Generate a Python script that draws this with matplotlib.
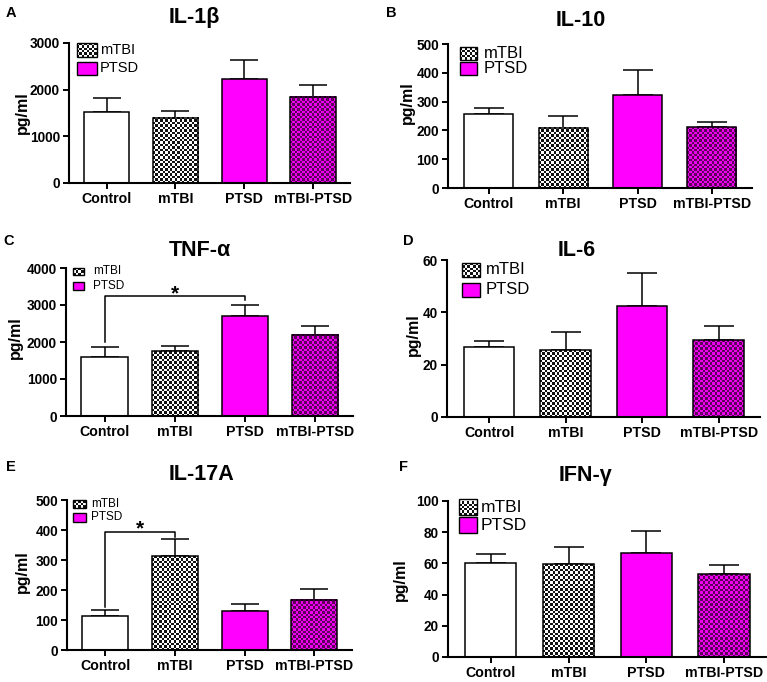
import numpy as np
import matplotlib
matplotlib.use('Agg')
import matplotlib.pyplot as plt
from matplotlib.patches import Rectangle
from matplotlib.colors import to_rgb

plt.rcParams['font.family'] = ['Liberation Sans', 'DejaVu Sans']

# ---------------- data ----------------
groups = ['Control', 'mTBI', 'PTSD', 'mTBI-PTSD']
legend_labels = ['mTBI', 'PTSD']

il1b_mean = [1515, 1393, 2225, 1852]
il1b_sem = [308, 150, 417, 244]
il10_mean = [256, 210, 323, 211]
il10_sem = [23, 41, 86, 17]
tnfa_mean = [1591, 1753, 2706, 2193]
tnfa_sem = [270, 126, 287, 252]
il6_mean = [26.8, 25.6, 42.6, 29.3]
il6_sem = [2.1, 7.0, 12.6, 5.5]
il17a_mean = [112, 313, 130, 168]
il17a_sem = [21, 58, 25, 37]
ifng_mean = [60.3, 59.6, 66.7, 53.0]
ifng_sem = [5.9, 11.1, 14.1, 6.2]

titles = ['IL-1β', 'IL-10', 'TNF-α', 'IL-6', 'IL-17A', 'IFN-γ']
letters = ['A', 'B', 'C', 'D', 'E', 'F']
y_max = [3000, 500, 4000, 60, 500, 100]
y_step = [1000, 100, 1000, 20, 100, 20]
# significance brackets: (group i, group j, bracket level, left leg end, right leg end)
sig_tnfa = (0, 2, 3230, 1990, 3140)
sig_il17a = (0, 1, 395, 145, 376)

means = [il1b_mean, il10_mean, tnfa_mean, il6_mean, il17a_mean, ifng_mean]
sems = [il1b_sem, il10_sem, tnfa_sem, il6_sem, il17a_sem, ifng_sem]
sigs = [None, None, sig_tnfa, None, sig_il17a, None]

# ---------------- layout (pixels) ----------------
W, H = 767, 682
DPI = 100
fig = plt.figure(figsize=(W / DPI, H / DPI), dpi=DPI)

# l, r, t, b of axes
boxes = [(69, 350, 43, 183), (448, 752, 44, 188),
         (66, 353, 268, 416), (447, 760, 260, 417),
         (67, 352, 500, 650), (448, 766, 501, 657)]
title_pos = [(194, 17), (581, 21), (200, 250), (577, 250), (202, 475), (585, 475)]
letter_pos = [(11, 13), (391, 13), (9, 241), (408, 241), (11, 467), (404, 467)]
ylabel_pos = [(22, 113), (407, 103), (15, 338), (413, 335), (22, 572), (400, 580)]
# legend: box x0, x1, (y0,y1) mTBI, (y0,y1) PTSD, text x, fontsize
legend_spec = [(77, 97, (43, 57), (62, 75), 100, 10.5),
               (460, 477, (47, 60), (62, 75), 484, 12),
               (73, 84, (268, 275), (282, 290), 93, 8.5),
               (462, 480, (263, 277), (283, 297), 486, 12),
               (73, 86, (500, 508), (513, 522), 91, 8.5),
               (459, 477, (499, 515), (517, 533), 481, 12.5)]

MAG = '#FF00FF'
CHK_BW = ('#111111', '#FFFFFF')
CHK_MAG = ('#5C005C', '#F000F0')
X = np.arange(len(groups))
BW = 0.66
XLIM = (-0.55, 3.54)
LW = 1.1


def px_axes(l, r, t, b):
    return fig.add_axes([l / W, 1 - b / H, (r - l) / W, (b - t) / H])


def px2data(ax, px, py):
    return ax.transData.inverted().transform((px, H - py))


def checker(ax, x0, x1, y0, y1, cols, cell=2.45, z=2):
    p0 = ax.transData.transform((x0, y0))
    p1 = ax.transData.transform((x1, y1))
    nx = max(1, int(round(abs(p1[0] - p0[0]) / cell)))
    ny = max(1, int(round(abs(p1[1] - p0[1]) / cell)))
    ii, jj = np.indices((ny, nx))
    mask = ((ii + jj) % 2 == 0)[..., None]
    img = np.where(mask, np.array(to_rgb(cols[0])), np.array(to_rgb(cols[1])))
    ax.imshow(img, extent=(x0, x1, y0, y1), origin='lower',
              interpolation='nearest', aspect='auto', zorder=z)


for k in range(6):
    l, r, t, b = boxes[k]
    ax = px_axes(l, r, t, b)
    ax.set_xlim(*XLIM)
    ax.set_ylim(0, y_max[k])
    m = means[k]
    s = sems[k]
    bar_px = BW * (r - l) / (XLIM[1] - XLIM[0])
    cap_pt = 0.3 * bar_px * 72 / DPI

    ax.errorbar(X, m, yerr=[np.zeros(4), s], fmt='none', ecolor='black',
                elinewidth=LW, capsize=cap_pt, capthick=LW, zorder=1.5)
    faces = ['white', 'none', MAG, 'none']
    ax.bar(X, m, width=BW, color=faces, edgecolor='black', linewidth=LW, zorder=3)
    checker(ax, X[1] - BW / 2, X[1] + BW / 2, 0, m[1], CHK_BW)
    checker(ax, X[3] - BW / 2, X[3] + BW / 2, 0, m[3], CHK_MAG)
    ax.set_xlim(*XLIM)
    ax.set_ylim(0, y_max[k])

    for sp in ['top', 'right']:
        ax.spines[sp].set_visible(False)
    for sp in ['left', 'bottom']:
        ax.spines[sp].set_linewidth(1.5)
        ax.spines[sp].set_zorder(4)
    ax.set_xticks(X)
    ax.set_xticklabels(groups, fontsize=10.2, fontweight='bold')
    yt = np.arange(0, y_max[k] + 1e-9, y_step[k])
    ax.set_yticks(yt)
    ax.set_yticklabels([f'{v:g}' for v in yt], fontsize=9.8, fontweight='bold')
    ax.tick_params(direction='out', length=4, width=1.4, pad=2.5)
    ax.patch.set_alpha(0)

    # significance bracket
    if sigs[k] is not None:
        i, j, lev, lend, rend = sigs[k]
        ax.plot([X[i], X[i], X[j], X[j]], [lend, lev, lev, rend],
                color='black', lw=LW, zorder=4, clip_on=False)
        ax.annotate('*', xy=((X[i] + X[j]) / 2, lev), xytext=(0, 2),
                    textcoords='offset points', ha='center', va='center',
                    fontsize=15, fontweight='bold', annotation_clip=False)

    # legend (manual)
    bx0, bx1, yb1, yb2, tx, fs = legend_spec[k]
    for (yy0, yy1), lab, kind in zip([yb1, yb2], legend_labels, ['chk', 'mag']):
        d0 = px2data(ax, bx0, yy1)
        d1 = px2data(ax, bx1, yy0)
        if kind == 'chk':
            checker(ax, d0[0], d1[0], d0[1], d1[1], CHK_BW, z=5)
            fc = 'none'
        else:
            fc = MAG
        ax.add_patch(Rectangle((d0[0], d0[1]), d1[0] - d0[0], d1[1] - d0[1],
                               facecolor=fc, edgecolor='black', linewidth=1.0,
                               zorder=6, clip_on=False))
        td = px2data(ax, tx, (yy0 + yy1) / 2)
        ax.text(td[0], td[1], lab, fontsize=fs, ha='left', va='center', zorder=6)
    ax.set_xlim(*XLIM)
    ax.set_ylim(0, y_max[k])

    fig.text(title_pos[k][0] / W, 1 - title_pos[k][1] / H, titles[k],
             fontsize=15.5, fontweight='bold', ha='center', va='center')
    fig.text(letter_pos[k][0] / W, 1 - letter_pos[k][1] / H, letters[k],
             fontsize=10.5, fontweight='bold', ha='center', va='center')
    fig.text(ylabel_pos[k][0] / W, 1 - ylabel_pos[k][1] / H, 'pg/ml',
             fontsize=11.5, fontweight='bold', ha='center', va='center', rotation=90)

fig.savefig('out.png', dpi=DPI)
